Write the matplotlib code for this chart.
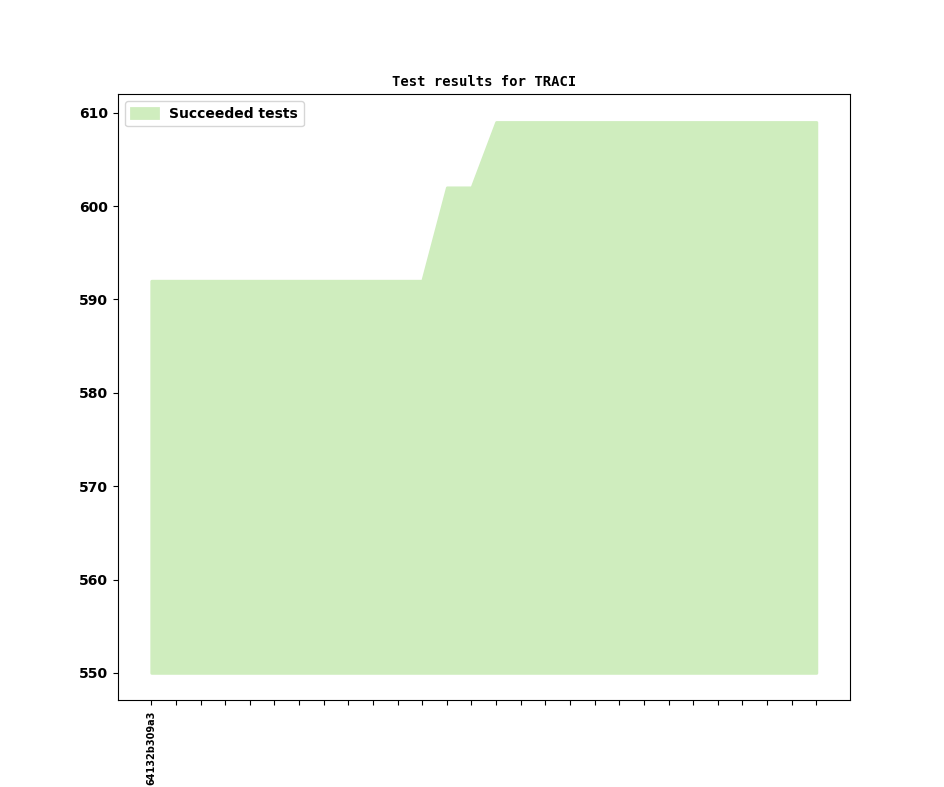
import matplotlib
matplotlib.use("Agg")
import matplotlib.pyplot as plt

# commits (only the first one has a label in the reference)
commits = ["64132b309a3"] + [""] * 27
succeeded = [592] * 12 + [602, 602] + [609] * 14
baseline = 550

fig, ax = plt.subplots(figsize=(9.44, 7.87), dpi=100)
x = list(range(len(commits)))
ax.fill_between(x, baseline, succeeded, color="#cfedbe", linewidth=2, label="Succeeded tests")

ax.set_title("Test results for TRACI", family="DejaVu Sans Mono", fontweight="bold", fontsize=10)
ax.set_xticks(x)
ax.set_xticklabels(commits, rotation=90, fontsize=7, fontweight="bold")
for lbl in ax.get_yticklabels():
    lbl.set_fontweight("bold")
    lbl.set_fontsize(10)
ax.legend(loc="upper left", prop={"weight": "bold", "size": 10})

fig.savefig("out.png", dpi=100)
